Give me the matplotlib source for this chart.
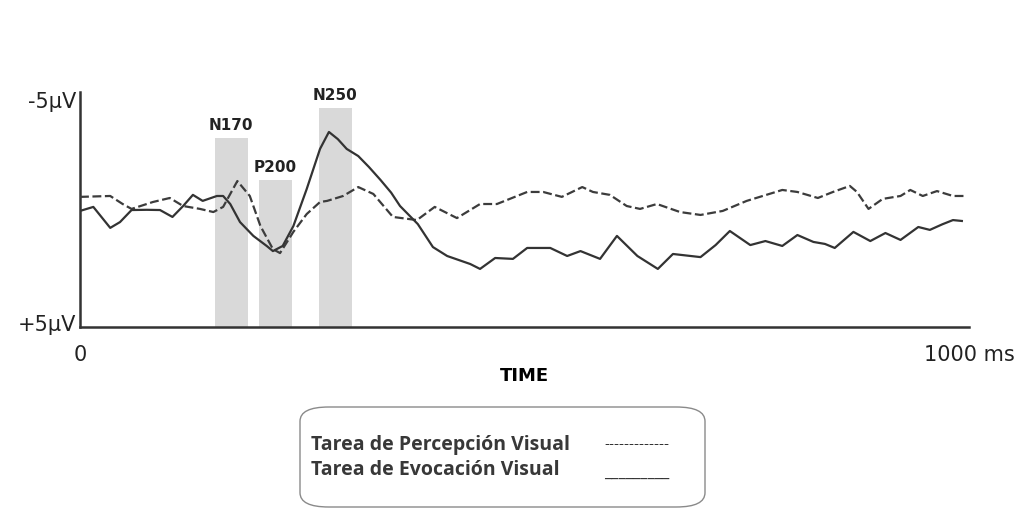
import matplotlib.pyplot as plt
from matplotlib.patches import FancyBboxPatch

# ERP traces, time in ms, amplitude in µV (negative up)
t_evoc = [0, 15, 34, 45, 58, 75, 90, 104, 116, 127, 138, 154, 161, 169, 180, 195, 210,
          217, 228, 240, 255, 270, 280, 290, 300, 313, 325, 338, 350, 360, 380, 397,
          413, 439, 450, 467, 487, 503, 529, 548, 563, 585, 604, 627, 650, 667, 698,
          715, 731, 754, 771, 790, 807, 825, 838, 849, 870, 889, 906, 923, 943, 956,
          970, 982, 992]
v_evoc = [0.02, -0.16, 0.78, 0.52, -0.02, -0.03, -0.02, 0.29, -0.20, -0.70, -0.43,
          -0.65, -0.65, -0.29, 0.52, 1.14, 1.59, 1.82, 1.59, 0.70, -0.96, -2.76, -3.52,
          -3.20, -2.76, -2.44, -1.95, -1.37, -0.80, -0.20, 0.61, 1.64, 2.04, 2.40, 2.62,
          2.13, 2.17, 1.68, 1.68, 2.04, 1.82, 2.17, 1.14, 2.04, 2.62, 1.95, 2.09, 1.55,
          0.92, 1.55, 1.37, 1.59, 1.10, 1.41, 1.50, 1.68, 0.96, 1.37, 1.01, 1.32, 0.74,
          0.87, 0.62, 0.43, 0.47]

t_perc = [0, 34, 48, 58, 82, 101, 116, 135, 150, 161, 177, 191, 203, 217, 225, 240, 255,
          270, 278, 296, 313, 330, 352, 379, 399, 424, 450, 469, 503, 521, 542, 565,
          577, 596, 615, 630, 649, 675, 698, 723, 750, 790, 807, 830, 847, 866, 874,
          887, 903, 923, 934, 948, 964, 982, 996]
v_perc = [-0.61, -0.65, -0.29, -0.07, -0.38, -0.56, -0.20, -0.07, 0.07, -0.16, -1.32,
          -0.65, 0.70, 1.73, 1.91, 0.96, 0.16, -0.38, -0.43, -0.65, -1.05, -0.74, 0.29,
          0.43, -0.16, 0.34, -0.29, -0.29, -0.83, -0.83, -0.61, -1.05, -0.83, -0.70,
          -0.20, -0.07, -0.29, 0.07, 0.20, 0.02, -0.43, -0.92, -0.83, -0.56, -0.83,
          -1.10, -0.83, -0.07, -0.52, -0.65, -0.92, -0.65, -0.87, -0.65, -0.65]

# component windows
comp_names = ['N170', 'P200', 'N250']
comp_center = [170, 220, 287]
comp_top = [-3.25, -1.37, -4.60]

y_low, y_high = 5.22, -5.31

fig = plt.figure(figsize=(10.27, 5.10), dpi=100)
ax = fig.add_axes([0.0779, 0.357, 0.8656, 0.4606])

ax.bar(comp_center, [top - y_low for top in comp_top], bottom=y_low, width=37,
       color='#d9d9d9', zorder=1)
for name, c, top in zip(comp_names, comp_center, comp_top):
    ax.annotate(name, (c, top), xytext=(0, 4), textcoords='offset points',
                ha='center', va='bottom', fontsize=11, fontweight='bold', color='#222222')

ax.plot(t_perc, v_perc, color='#3c3c3c', lw=1.6, ls=(0, (4, 1.6)), zorder=3)
ax.plot(t_evoc, v_evoc, color='#333333', lw=1.6, solid_joinstyle='round', zorder=3)

ax.set_xlim(0, 1000)
ax.set_ylim(y_low, y_high)
ax.set_yticks([-5, 5], ['-5μV', '+5μV'])
ax.set_xticks([0, 1000], ['0', '1000 ms'])
ax.tick_params(length=0, labelsize=15, colors='#222222')
ax.tick_params(axis='y', pad=3)
ax.tick_params(axis='x', pad=12)
for s in ['top', 'right']:
    ax.spines[s].set_visible(False)
for s in ['left', 'bottom']:
    ax.spines[s].set_color('#333333')
    ax.spines[s].set_linewidth(1.8)
ax.set_xlabel('TIME', fontsize=13, fontweight='bold', labelpad=2)

# legend box
box = FancyBboxPatch((300 / 1027, 2 / 510), 405 / 1027, 100 / 510,
                     boxstyle='round,pad=0,rounding_size=0.028',
                     transform=fig.transFigure, facecolor='white',
                     edgecolor='#8a8a8a', lw=1.0)
fig.patches.append(box)
legend_font = dict(family='Open Sans', fontweight='bold', fontsize=14, color='#383838')
fig.text(311 / 1027, 1 - 445 / 510, 'Tarea de Percepción Visual', va='center', **legend_font)
fig.text(311 / 1027, 1 - 470 / 510, 'Tarea de Evocación Visual', va='center', **legend_font)
fig.text(604 / 1027, 1 - 445 / 510, '-------------', va='center', family='Open Sans',
         fontsize=11, color='#333333')
fig.text(604 / 1027, 1 - 474 / 510, '_________', va='center', family='Open Sans',
         fontsize=12, color='#333333')

fig.savefig('out.png', dpi=100)
